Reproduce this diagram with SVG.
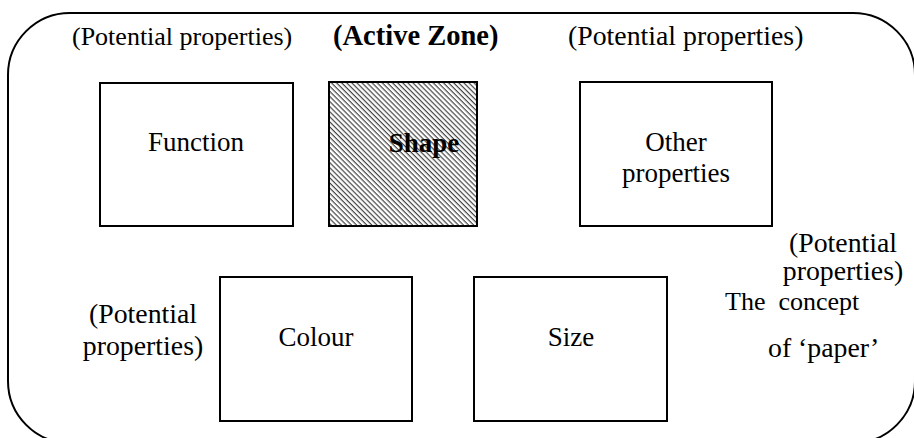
<svg xmlns="http://www.w3.org/2000/svg" width="914" height="438" viewBox="0 0 914 438">
<style>
.t{font-family:"Liberation Serif","Times New Roman",serif;font-size:26px;fill:#000}
.b{font-weight:bold}
.box{fill:#fff;stroke:#000;stroke-width:2}
.m{text-anchor:middle}
.big{font-size:27px}
.l{font-size:27.8px}
</style>
<defs>
<pattern id="hatch" patternUnits="userSpaceOnUse" width="3.6" height="3.6" patternTransform="rotate(45)">
<rect width="3.6" height="3.6" fill="#fff"/>
<rect width="3.6" height="1.2" fill="#444"/>
</pattern>
</defs>
<g id="concept">
<rect x="8" y="13" width="907" height="430" rx="62" ry="62" fill="#fff" stroke="#000" stroke-width="2"/>
<text class="t" x="725" y="310" xml:space="preserve">The  concept</text>
<text class="t l" x="768" y="357">of ‘paper’</text>
</g>
<g id="label-top-left"><text class="t" x="72" y="45">(Potential properties)</text></g>
<g id="label-active"><text class="t b" x="333" y="45" style="font-size:28.5px">(Active Zone)</text></g>
<g id="label-top-right"><text class="t l" x="568" y="45">(Potential properties)</text></g>
<g id="label-right"><text class="t m l" x="843" y="252">(Potential</text><text class="t m l" x="843" y="280">properties)</text></g>
<g id="label-left"><text class="t m l" x="143" y="323">(Potential</text><text class="t m l" x="143" y="355">properties)</text></g>
<g id="function"><rect class="box" x="100" y="83" width="193" height="143"/><text class="t m big" x="196" y="151">Function</text></g>
<g id="shape"><rect x="329" y="82" width="148" height="144" fill="url(#hatch)" stroke="#000" stroke-width="2"/><text class="t b m big" x="424" y="152">Shape</text></g>
<g id="other"><rect class="box" x="580" y="82" width="192" height="144"/><text class="t m big" x="676" y="151">Other</text><text class="t m big" x="676" y="182">properties</text></g>
<g id="colour"><rect class="box" x="220" y="277" width="192" height="144"/><text class="t m big" x="316" y="346">Colour</text></g>
<g id="size"><rect class="box" x="474" y="277" width="193" height="144"/><text class="t m big" x="571" y="346">Size</text></g>
<g id="connectors"/>
</svg>
